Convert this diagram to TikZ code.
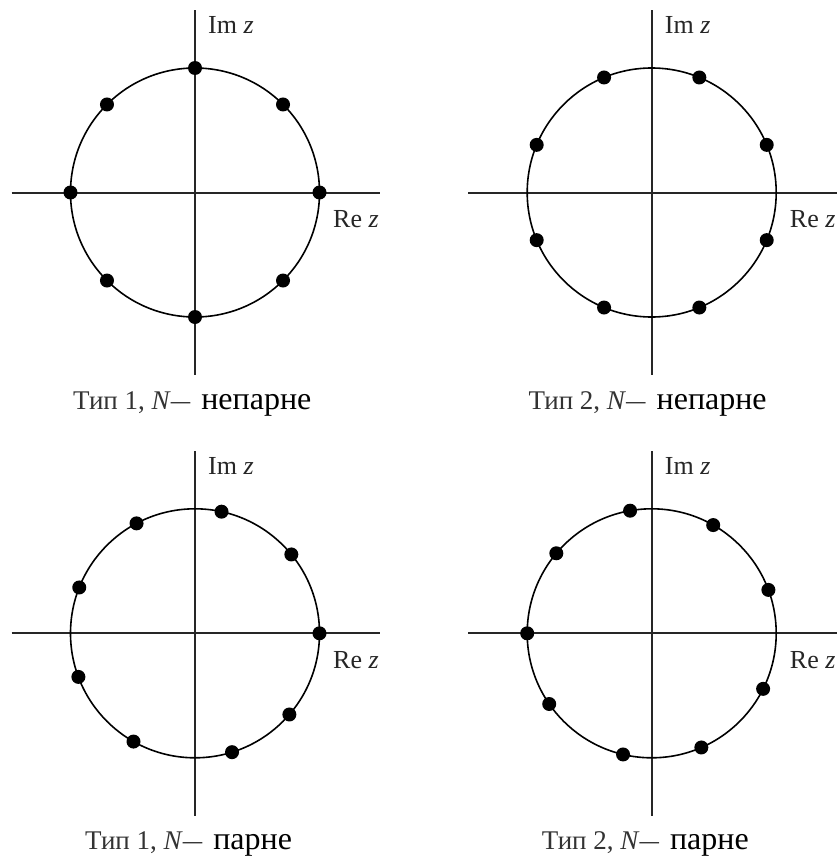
\documentclass[tikz,border=0pt]{standalone}
\usepackage{fontspec}
\setmainfont{Liberation Serif}
\usetikzlibrary{calc}
\newcommand{\capA}[2]{{\fontsize{27}{30}\selectfont\color{black!80}Тип #1, \textit{N}\scalebox{0.72}[1]{—}}\hspace{11pt}{\fontsize{32}{34}\selectfont #2}}
\begin{document}
\begin{tikzpicture}[x=1pt,y=-1pt,
  axis/.style={line width=2pt, draw=black!85},
  ucirc/.style={line width=1.6pt, draw=black},
  dot/.style={circle, fill=black, inner sep=0pt, minimum size=14pt},
  lbl/.style={font=\fontsize{26}{28}\selectfont, text=black!85, inner sep=0pt, anchor=base west},
  captxt/.style={inner sep=0pt, anchor=base west}]
\useasboundingbox[fill=white] (0,0) rectangle (837,859);
\coordinate (c1) at (195,192.5);
\coordinate (c2) at (651.7,192.5);
\coordinate (c3) at (195,633.3);
\coordinate (c4) at (651.7,633.3);
% axes and circles
\foreach \c in {c1,c2,c3,c4}{
  \coordinate (\c-l) at ($(\c)+(-183.5,0)$);
  \coordinate (\c-r) at ($(\c)+(185.3,0)$);
  \coordinate (\c-t) at ($(\c)+(0,-182)$);
  \coordinate (\c-b) at ($(\c)+(0,182.5)$);
  \draw[axis] (\c-l) -- (\c-r);
  \draw[axis] (\c-t) -- (\c-b);
  \draw[ucirc] (\c) circle[radius=124.5];
  \node[lbl] (\c-im) at ($(\c)+(13,-159)$) {Im \textit{z}};
  \node[lbl] (\c-re) at ($(\c)+(138,35)$) {Re \textit{z}};
}
% dots
\foreach \a [count=\i] in {0,45,...,315}
  \node[dot] (d1-\i) at ($(c1)+(-\a:124.5)$) {};
\foreach \a [count=\i] in {22.5,67.5,...,337.5}
  \node[dot] (d2-\i) at ($(c2)+(-\a:124.5)$) {};
\foreach \a [count=\i] in {0,39.3,77.7,118,158.4,200.5,240.4,287.3,319.3}
  \node[dot] (d3-\i) at ($(c3)+(-\a:124.5)$) {};
\foreach \a [count=\i] in {20.4,60.4,100,140,180,214.6,256.7,293.5,333.5}
  \node[dot] (d4-\i) at ($(c4)+(-\a:124.5)$) {};
% captions
\node[captxt] (cap1) at ($(c1)+(-122,217)$) {\capA{1}{непарне}};
\node[captxt] (cap2) at ($(c2)+(-123.4,217)$) {\capA{2}{непарне}};
\node[captxt] (cap3) at ($(c3)+(-110,216)$) {\capA{1}{парне}};
\node[captxt] (cap4) at ($(c4)+(-110,216)$) {\capA{2}{парне}};
\end{tikzpicture}
\end{document}
